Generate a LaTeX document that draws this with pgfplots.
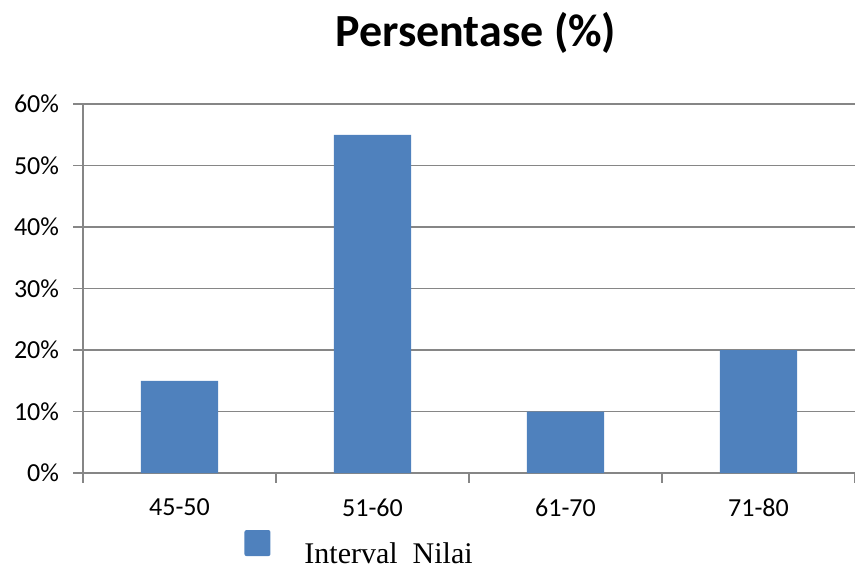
\documentclass[border=0pt]{standalone}
\usepackage{fontspec}
\setmainfont{Carlito}
\newfontfamily\legendfont{Liberation Serif}
\usepackage{pgfplots}
\pgfplotsset{compat=1.18}
\definecolor{barblue}{HTML}{4F81BD}
\definecolor{axgray}{HTML}{868686}

\begin{document}
\begin{tikzpicture}
\begin{axis}[
    at={(0,0)}, anchor=south west,
    scale only axis,
    width=772pt, height=369pt,
    xmin=0, xmax=4,
    ymin=0, ymax=60,
    axis lines=left,
    axis line style={-, draw=axgray, line width=1.6pt},
    ymajorgrids,
    grid style={draw=axgray, line width=1.4pt},
    ytick={0,10,20,30,40,50,60},
    yticklabels={0\%,10\%,20\%,30\%,40\%,50\%,60\%},
    xtick={0,1,2,3,4},
    xticklabels={},
    extra x ticks={0.5,1.5,2.5,3.5},
    extra x tick labels={45-50,51-60,61-70,71-80},
    extra x tick style={major tick length=0pt, grid=none},
    tick align=outside,
    major tick length=9.5pt,
    tick style={draw=axgray, line width=1.6pt},
    ticklabel style={font=\fontsize{26}{26}\selectfont},
    yticklabel style={xshift=-11pt},
    xticklabel style={yshift=-22pt},
    title={\bfseries Persentase (\%)},
    title style={font=\fontsize{46}{46}\selectfont, anchor=base, at={(0.509,1)}, yshift=52pt},
    legend style={draw=none, fill=none, at={(0.205,-0.205)}, anchor=west,
        font=\legendfont\fontsize{30}{30}\selectfont,
        /tikz/every odd column/.append style={column sep=0pt}},
    legend image code/.code={\fill[barblue, rounded corners=2pt] (0pt,-2pt) rectangle (26pt,24pt);},
]
\addplot[ybar, bar width=0.4, fill=barblue, draw=none] coordinates {
    (0.5,15) (1.5,55) (2.5,10) (3.5,20)
};
\addlegendentry{\hspace{32pt}Interval\ \ Nilai}
\end{axis}
\pgfresetboundingbox
\path (-83pt,-98pt) rectangle (772pt,473pt);
\end{tikzpicture}
\end{document}
